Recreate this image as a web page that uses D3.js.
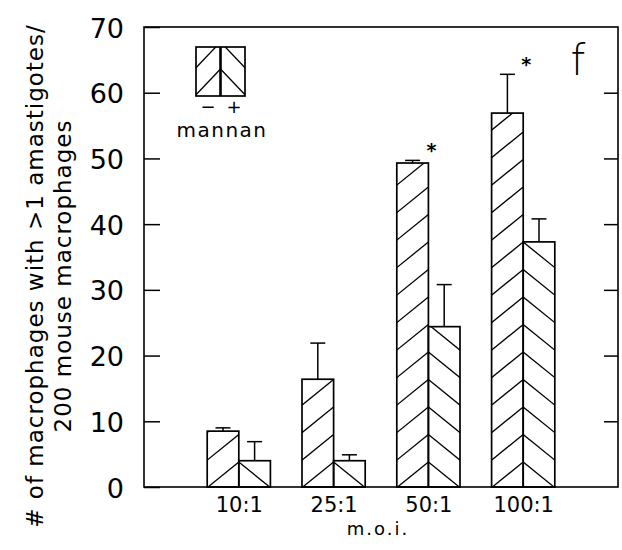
<!DOCTYPE html>
<html>
<head>
<meta charset="utf-8">
<script src="https://cdn.jsdelivr.net/npm/d3@7"></script>
<style>
  body { margin: 0; background: #fff; }
  svg { display: block; font-family: "DejaVu Sans", sans-serif; }
</style>
</head>
<body>
<div id="chart"></div>
<script>
(function(d3) {
    'use strict';

    // values
    var categories = ['10:1', '25:1', '50:1', '100:1'];
    var minusValues = [8.5, 16.4, 49.3, 56.9];
    var minusErrors = [0.5, 5.5, 0.4, 5.9];
    var plusValues = [4.0, 4.0, 24.4, 37.3];
    var plusErrors = [2.9, 0.9, 6.4, 3.5];
    var significant = [false, false, true, true];
    var yTicks = [0, 10, 20, 30, 40, 50, 60, 70];

    var width = 622, height = 550;
    var plot = { left: 144, right: 618, top: 27, bottom: 487 };

    var svg = d3.select('#chart').append('svg')
        .attr('width', width)
        .attr('height', height);

    var x = d3.scalePoint()
        .domain(categories)
        .range([plot.left, plot.right])
        .padding(1);

    var y = d3.scaleLinear()
        .domain([0, 70])
        .range([plot.bottom, plot.top]);

    var barW = x.step() / 3;
    var hatch = { period: 27.5, offset: 25, slope: 0.81 };

    var defs = svg.append('defs');
    var clipId = 0;

    // hatch lines meet on the shared edge (xc); dir -1 goes left, +1 right
    function drawHatch(g, x0, x1, y0, y1, xc, dir, apexBase, period, slope) {
        var id = 'clip' + (clipId++);
        defs.append('clipPath').attr('id', id)
            .append('rect')
            .attr('x', x0).attr('y', y0)
            .attr('width', x1 - x0).attr('height', y1 - y0);
        var hg = g.append('g').attr('clip-path', 'url(#' + id + ')');
        var span = 80;
        for (var a = apexBase + period; a > y0 - period * 3; a -= period) {
            hg.append('line')
                .attr('x1', xc).attr('y1', a)
                .attr('x2', xc + dir * span).attr('y2', a + slope * span)
                .attr('stroke', '#000')
                .attr('stroke-width', 1.3);
        }
    }

    var bars = svg.append('g');

    categories.forEach(function(c, i) {
        var xc = x(c);
        var groups = [
            { v: minusValues[i], e: minusErrors[i], x0: xc - barW, dir: -1 },
            { v: plusValues[i], e: plusErrors[i], x0: xc, dir: 1 }
        ];
        groups.forEach(function(b) {
            var top = y(b.v);
            drawHatch(bars, b.x0, b.x0 + barW, top, y(0), xc, b.dir,
                y(0) - hatch.offset, hatch.period, hatch.slope);
            bars.append('rect')
                .attr('x', b.x0).attr('y', top)
                .attr('width', barW).attr('height', y(0) - top)
                .attr('fill', 'none')
                .attr('stroke', '#000')
                .attr('stroke-width', 1.7);
            var bc = b.x0 + barW / 2;
            bars.append('line')
                .attr('x1', bc).attr('x2', bc)
                .attr('y1', top).attr('y2', y(b.v + b.e))
                .attr('stroke', '#000').attr('stroke-width', 1.5);
            bars.append('line')
                .attr('x1', bc - 7.5).attr('x2', bc + 7.5)
                .attr('y1', y(b.v + b.e)).attr('y2', y(b.v + b.e))
                .attr('stroke', '#000').attr('stroke-width', 1.5);
        });
        if (significant[i]) {
            bars.append('text')
                .attr('x', xc + 3)
                .attr('y', y(minusValues[i] + minusErrors[i] + 2) + 10)
                .attr('text-anchor', 'middle')
                .style('font-size', '19px')
                .style('font-weight', 'bold')
                .text('*');
        }
    });

    // frame
    svg.append('rect')
        .attr('x', plot.left).attr('y', plot.top)
        .attr('width', plot.right - plot.left)
        .attr('height', plot.bottom - plot.top)
        .attr('fill', 'none')
        .attr('stroke', '#000')
        .attr('stroke-width', 1.6);

    var yAxis = svg.append('g')
        .attr('transform', 'translate(' + plot.left + ',0)')
        .call(d3.axisLeft(y).tickValues(yTicks).tickSize(-16).tickPadding(20));
    yAxis.select('.domain').remove();
    yAxis.selectAll('line').attr('stroke-width', 1.5);
    yAxis.selectAll('text')
        .attr('dy', '0.37em')
        .style('font-size', '27px')
        .style('font-family', '"DejaVu Sans", sans-serif');

    var yAxisR = svg.append('g')
        .attr('transform', 'translate(' + plot.right + ',0)')
        .call(d3.axisRight(y).tickValues(yTicks.slice(1, -1)).tickSize(-14).tickFormat(''));
    yAxisR.select('.domain').remove();
    yAxisR.selectAll('line').attr('stroke-width', 1.5);

    var xAxis = svg.append('g')
        .attr('transform', 'translate(0,' + plot.bottom + ')')
        .call(d3.axisBottom(x).tickSize(0).tickPadding(10));
    xAxis.select('.domain').remove();
    xAxis.selectAll('text')
        .style('font-size', '21px')
        .style('font-family', '"DejaVu Sans", sans-serif');

    svg.append('text')
        .attr('x', (plot.left + plot.right) / 2 - 3)
        .attr('y', 535)
        .attr('text-anchor', 'middle')
        .style('font-size', '18px')
        .style('letter-spacing', '2px')
        .text('m.o.i.');

    // y title, two lines
    var yTitle = svg.append('text')
        .attr('transform', 'translate(0,' + 276 + ') rotate(-90)')
        .attr('text-anchor', 'middle')
        .style('font-size', '23px')
        .style('letter-spacing', '1px');
    yTitle.append('tspan').attr('x', 0).attr('y', 43)
        .text('# of macrophages with >1 amastigotes/');
    yTitle.append('tspan').attr('x', 0).attr('y', 71)
        .text('200 mouse macrophages');

    // panel letter
    svg.append('text')
        .attr('x', 578).attr('y', 75)
        .attr('text-anchor', 'middle')
        .style('font-size', '42px')
        .style('font-weight', 200)
        .text('f');

    // legend
    var lg = svg.append('g');
    var box = { x0: 196, x1: 245, y0: 47, y1: 96 };
    var mid = (box.x0 + box.x1) / 2;
    drawHatch(lg, box.x0, mid, box.y0, box.y1, mid, -1, 69, 27, 1.05);
    drawHatch(lg, mid, box.x1, box.y0, box.y1, mid, 1, 69, 27, 1.05);
    lg.append('rect')
        .attr('x', box.x0).attr('y', box.y0)
        .attr('width', box.x1 - box.x0).attr('height', box.y1 - box.y0)
        .attr('fill', 'none').attr('stroke', '#000').attr('stroke-width', 1.7);
    lg.append('line')
        .attr('x1', mid).attr('x2', mid)
        .attr('y1', box.y0).attr('y2', box.y1)
        .attr('stroke', '#000').attr('stroke-width', 2.6);
    lg.append('text').attr('x', 208).attr('y', 113)
        .attr('text-anchor', 'middle').style('font-size', '18px').text('\u2212');
    lg.append('text').attr('x', 234).attr('y', 113)
        .attr('text-anchor', 'middle').style('font-size', '18px').text('+');
    lg.append('text').attr('x', 222).attr('y', 137)
        .attr('text-anchor', 'middle').style('font-size', '20px')
        .style('letter-spacing', '1.5px').text('mannan');

})(window.d3);
</script>
</body>
</html>
